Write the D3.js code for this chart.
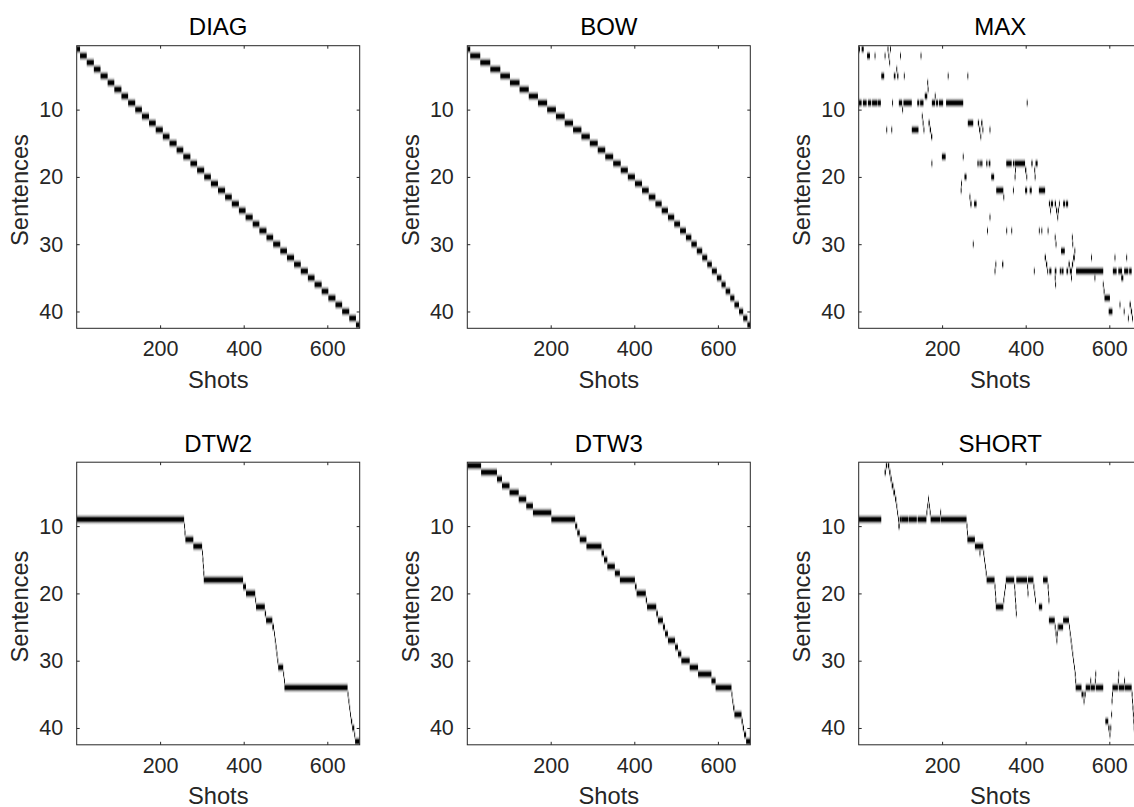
<!DOCTYPE html>
<html>
<head>
<meta charset="utf-8">
<script src="https://cdn.jsdelivr.net/npm/d3@7"></script>
<style>
  body { margin: 0; background: #fff; }
  text { font-family: "Liberation Sans", Arial, sans-serif; }
</style>
</head>
<body>
<div id="svg-container"></div>
<script>
////////////////////////////////////////////////////////////////////
////////////////////////////  Data  ////////////////////////////////
// 42 sentences x 677 shots, one sentence per shot
const shotCount = 677;
const sentenceCount = 42;

const xTicks = [200, 400, 600];
const yTicks = [10, 20, 30, 40];
const panelTitles = ["DIAG", "BOW", "MAX", "DTW2", "DTW3", "SHORT"];

// first shot of each sentence
const diagStarts = [1, 9, 25, 42, 58, 75, 91, 108, 124, 141, 157, 174, 190, 207,
  223, 240, 256, 273, 289, 306, 322, 339, 356, 372, 389, 405, 422, 438, 455, 471,
  488, 504, 521, 537, 554, 570, 587, 603, 620, 636, 653, 669];

const bowStarts = [1, 8, 32, 56, 80, 103, 126, 148, 170, 192, 213, 234, 254, 274,
  294, 313, 331, 350, 368, 385, 402, 419, 435, 451, 466, 481, 496, 510, 524, 537,
  550, 563, 575, 586, 598, 609, 619, 630, 640, 651, 661, 671];

// runs: [sentence, firstShot, lastShot]
const maxRuns = [
  [1, 1, 3], [1, 8, 12], [2, 21, 27], [2, 39, 39], [2, 63, 64], [1, 70, 71], [2, 72, 73],
  [3, 74, 75], [1, 76, 77], [2, 100, 100], [2, 149, 149],
  [5, 55, 61], [5, 85, 88], [4, 91, 92], [5, 93, 95], [5, 109, 109], [6, 165, 166],
  [5, 214, 214], [5, 261, 261], [8, 159, 164], [7, 166, 167], [8, 183, 184],
  [9, 1, 7], [9, 11, 19], [9, 23, 30], [9, 33, 45], [9, 47, 53], [9, 81, 81],
  [9, 97, 104], [10, 105, 106], [9, 108, 127], [9, 141, 145], [9, 148, 155],
  [9, 176, 183], [9, 186, 190], [9, 193, 202], [9, 210, 250], [9, 403, 403],
  [13, 67, 67], [13, 79, 79], [13, 128, 143], [11, 152, 153], [12, 154, 155],
  [13, 156, 157], [12, 168, 170], [13, 171, 173], [14, 174, 176],
  [12, 262, 274], [12, 286, 288], [13, 289, 291], [14, 292, 293], [12, 294, 296],
  [13, 297, 298], [13, 314, 314],
  [17, 200, 208], [17, 250, 250], [18, 175, 175],
  [18, 285, 287], [18, 290, 292], [18, 294, 296], [18, 306, 308], [18, 312, 315],
  [18, 354, 366], [18, 370, 372], [18, 374, 398], [19, 399, 401], [20, 402, 403],
  [18, 414, 416], [18, 424, 428],
  [20, 254, 258], [20, 318, 324], [20, 374, 374], [19, 375, 375], [19, 421, 421], [20, 422, 422],
  [22, 245, 245], [21, 246, 246], [22, 330, 346], [23, 347, 348], [22, 370, 370],
  [22, 399, 403], [22, 410, 414], [22, 432, 446],
  [23, 266, 267], [24, 268, 270], [24, 277, 282], [24, 456, 458], [25, 459, 460],
  [24, 461, 465], [24, 470, 472], [25, 473, 475], [26, 476, 477], [25, 478, 479],
  [24, 480, 481], [24, 490, 494], [24, 497, 501],
  [26, 314, 314], [28, 308, 308], [28, 354, 354], [28, 366, 366], [28, 432, 432],
  [28, 438, 438], [28, 453, 453],
  [30, 274, 274], [29, 470, 471], [30, 472, 472], [29, 511, 511], [30, 512, 512], [31, 517, 517],
  [31, 485, 493],
  [34, 326, 327], [33, 328, 329], [33, 344, 346], [34, 420, 420], [32, 446, 448],
  [33, 449, 451], [34, 452, 453], [34, 457, 461], [34, 470, 473], [34, 482, 484],
  [34, 486, 490], [34, 498, 501], [33, 503, 505], [34, 506, 510], [33, 511, 513],
  [32, 514, 517], [34, 521, 585], [32, 557, 557], [34, 609, 617], [34, 622, 630],
  [34, 636, 645], [34, 648, 653], [32, 613, 613], [32, 641, 641],
  [35, 470, 470], [36, 471, 471], [35, 509, 509], [35, 565, 565], [35, 629, 633], [36, 585, 586],
  [37, 587, 588], [38, 589, 601], [40, 599, 607],
  [39, 625, 625], [40, 635, 636], [41, 645, 645], [39, 649, 651], [40, 652, 654], [41, 655, 656]
];

const dtw2Runs = [
  [9, 1, 257], [10, 258, 258], [11, 259, 260], [12, 261, 279], [13, 280, 300],
  [14, 301, 301], [15, 302, 302], [16, 303, 303], [17, 304, 304], [18, 305, 398],
  [19, 399, 405], [20, 406, 427], [21, 428, 429], [22, 430, 450], [23, 451, 453],
  [24, 454, 468], [25, 469, 472], [26, 473, 474], [27, 475, 476], [28, 477, 478],
  [29, 479, 480], [30, 481, 482], [31, 483, 494], [32, 495, 496], [33, 497, 497],
  [34, 498, 648], [35, 649, 650], [36, 651, 652], [37, 653, 654], [38, 655, 656],
  [39, 657, 659], [40, 660, 664], [41, 665, 666], [42, 667, 677]
];

const dtw3Runs = [
  [1, 1, 33], [2, 34, 71], [3, 72, 83], [4, 84, 101], [5, 102, 123], [6, 124, 141],
  [7, 142, 157], [8, 158, 201], [9, 202, 258], [10, 259, 263], [11, 264, 269],
  [12, 270, 285], [13, 286, 321], [14, 322, 327], [15, 328, 335], [16, 336, 353],
  [17, 354, 365], [18, 366, 401], [19, 402, 405], [20, 406, 427], [21, 428, 430],
  [22, 431, 452], [23, 453, 456], [24, 457, 468], [25, 469, 473], [26, 474, 480],
  [27, 481, 497], [28, 498, 504], [29, 505, 512], [30, 513, 532], [31, 533, 552],
  [32, 553, 584], [33, 585, 594], [34, 595, 632], [35, 633, 634], [36, 635, 636],
  [37, 637, 639], [38, 640, 656], [39, 657, 659], [40, 660, 662], [41, 663, 667],
  [42, 668, 677]
];

const shortRuns = [
  [9, 1, 54],
  [2, 63, 65], [1, 66, 68], [1, 71, 73], [2, 74, 76], [3, 77, 79], [4, 80, 83],
  [5, 84, 87], [6, 88, 90], [7, 91, 92], [8, 93, 94], [9, 95, 95], [10, 96, 98],
  [9, 99, 103], [9, 104, 119], [9, 121, 139], [9, 142, 162], [8, 163, 164],
  [7, 165, 166], [6, 167, 168], [7, 169, 170], [8, 171, 172], [9, 173, 195],
  [8, 196, 196], [9, 197, 258],
  [10, 259, 259], [11, 260, 260], [12, 261, 278], [13, 279, 298], [14, 290, 290],
  [14, 299, 300], [15, 301, 302], [16, 303, 304], [17, 305, 306], [18, 307, 325],
  [19, 326, 326], [20, 327, 327], [21, 328, 328], [22, 329, 346], [21, 347, 348],
  [20, 349, 350], [19, 351, 352], [18, 353, 372], [19, 373, 373], [20, 374, 374],
  [21, 375, 375], [22, 376, 376], [23, 377, 377], [18, 378, 403], [19, 404, 404],
  [20, 405, 405], [18, 406, 418], [19, 419, 420], [20, 421, 422], [21, 423, 424],
  [22, 432, 439], [18, 442, 452], [19, 453, 453], [20, 454, 454], [21, 455, 455],
  [24, 456, 469], [25, 470, 471], [26, 472, 473], [27, 474, 474], [26, 475, 476],
  [25, 477, 478], [25, 479, 489], [24, 490, 503], [25, 504, 505], [26, 506, 507],
  [27, 508, 509], [28, 510, 511], [29, 512, 513], [30, 514, 515], [31, 516, 517],
  [32, 518, 518], [33, 519, 519], [34, 520, 533], [35, 534, 538], [36, 539, 540],
  [35, 541, 543], [34, 544, 554], [33, 555, 555], [34, 556, 565], [33, 566, 566],
  [32, 567, 567], [34, 568, 585],
  [39, 591, 597], [40, 598, 600], [41, 601, 602], [40, 603, 604], [38, 605, 605],
  [36, 606, 606], [35, 607, 607], [34, 608, 620], [33, 621, 621], [32, 622, 622],
  [34, 623, 635], [33, 636, 636], [34, 637, 653], [35, 654, 654], [36, 655, 655],
  [37, 656, 656], [38, 657, 657], [39, 658, 658], [40, 659, 662]
];

// starts -> runs
const startsToRuns = (starts) =>
  starts.map((s, i) => [i + 1, s, i < starts.length - 1 ? starts[i + 1] - 1 : shotCount]);

const panelRuns = [
  startsToRuns(diagStarts),
  startsToRuns(bowStarts),
  maxRuns,
  dtw2Runs,
  dtw3Runs,
  shortRuns
];

////////////////////////////////////////////////////////////////////
////////////////////////////  Init  ////////////////////////////////
const width = 1134;
const height = 807;

const svg = d3
  .select("#svg-container")
  .append("svg")
  .attr("width", width)
  .attr("height", height);

const colLeft = [76.7, 467.3, 858.7];
const rowTop = [45.7, 462.2];
const plotW = 283;
const plotH = 282.6;

const xScale = d3.scaleLinear().domain([0.5, shotCount + 0.5]).range([0, plotW]);
const yScale = d3.scaleLinear().domain([0.5, sentenceCount + 0.5]).range([0, plotH]);

const axisColor = "#262626";

// soft vertical profile for every band (imagesc smoothing)
const defs = svg.append("defs");
const grad = defs
  .append("linearGradient")
  .attr("id", "band")
  .attr("x1", 0).attr("y1", 0).attr("x2", 0).attr("y2", 1);
[[0, 0], [0.12, 0.12], [0.25, 0.45], [0.36, 0.9], [0.42, 1], [0.58, 1], [0.64, 0.9],
  [0.75, 0.45], [0.88, 0.12], [1, 0]].forEach(([o, a]) => {
  grad.append("stop").attr("offset", o).attr("stop-color", "#000").attr("stop-opacity", a);
});

const bandHalf = 0.85;

panelTitles.forEach((title, i) => {
  const col = i % 3;
  const row = Math.floor(i / 3);
  const g = svg
    .append("g")
    .attr("transform", `translate(${colLeft[col]}, ${rowTop[row]})`);

  defs
    .append("clipPath")
    .attr("id", `clip${i}`)
    .append("rect")
    .attr("width", plotW)
    .attr("height", plotH);

  g.append("rect").attr("width", plotW).attr("height", plotH).attr("fill", "#fff");

  g.append("g")
    .attr("clip-path", `url(#clip${i})`)
    .selectAll("rect")
    .data(panelRuns[i])
    .join("rect")
    .attr("x", (d) => xScale(d[1] - 0.5))
    .attr("width", (d) => Math.max(xScale(d[2] + 0.5) - xScale(d[1] - 0.5), 0.9))
    .attr("y", (d) => yScale(d[0] - bandHalf))
    .attr("height", (d) => yScale(d[0] + bandHalf) - yScale(d[0] - bandHalf))
    .attr("fill", "url(#band)");

  // axes, ticks pointing in
  const xb = g
    .append("g")
    .attr("transform", `translate(0, ${plotH})`)
    .call(d3.axisBottom(xScale).tickValues(xTicks).tickSize(-3).tickPadding(12.5));
  const xt = g
    .append("g")
    .call(d3.axisTop(xScale).tickValues(xTicks).tickSize(-3).tickFormat(""));
  const yl = g
    .append("g")
    .call(d3.axisLeft(yScale).tickValues(yTicks).tickSize(-3).tickPadding(13.5));
  const yr = g
    .append("g")
    .attr("transform", `translate(${plotW}, 0)`)
    .call(d3.axisRight(yScale).tickValues(yTicks).tickSize(-3).tickFormat(""));

  [xb, xt, yl, yr].forEach((a) => {
    a.select(".domain").remove();
    a.selectAll("line").attr("stroke", axisColor);
    a.selectAll("text")
      .attr("fill", axisColor)
      .style("font-family", '"Liberation Sans", Arial, sans-serif')
      .style("font-size", "21.5px");
  });

  g.append("rect")
    .attr("width", plotW)
    .attr("height", plotH)
    .attr("fill", "none")
    .attr("stroke", axisColor)
    .attr("stroke-width", 1);

  g.append("text")
    .attr("x", plotW / 2)
    .attr("y", -10.5)
    .attr("text-anchor", "middle")
    .style("font-size", "24px")
    .attr("fill", "#000")
    .text(title);

  g.append("text")
    .attr("x", plotW / 2)
    .attr("y", plotH + 59.5)
    .attr("text-anchor", "middle")
    .style("font-size", "23.7px")
    .attr("fill", axisColor)
    .text("Shots");

  g.append("text")
    .attr("transform", `translate(-48.5, ${plotH / 2 + 3}) rotate(-90)`)
    .attr("text-anchor", "middle")
    .style("font-size", "23.7px")
    .attr("fill", axisColor)
    .text("Sentences");
});
</script>
</body>
</html>
